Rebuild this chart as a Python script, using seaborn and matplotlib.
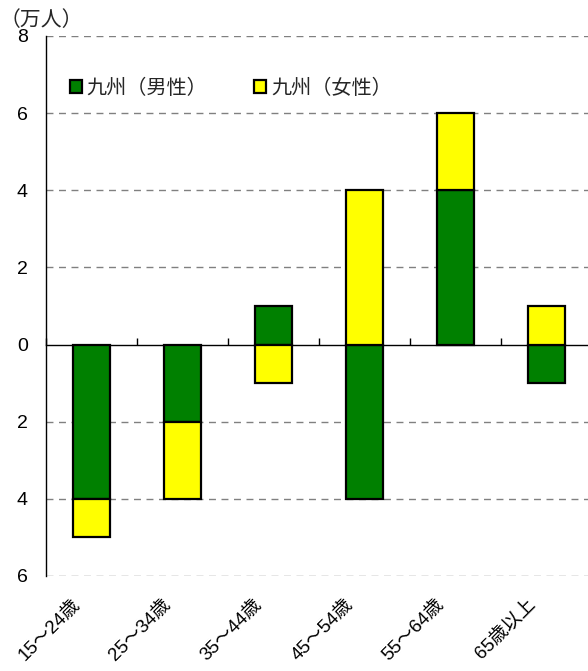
"""Kyushu labour force change by age group, stacked male/female bars."""

import matplotlib

matplotlib.use("Agg")
import matplotlib.pyplot as plt
import matplotlib.transforms as mtransforms
import numpy as np
import pandas as pd
import seaborn as sns
from matplotlib.patches import Patch
from matplotlib.ticker import FuncFormatter

AGE_GROUPS = ["15～24歳", "25～34歳", "35～44歳", "45～54歳", "55～64歳", "65歳以上"]
MALE = [-4, -2, 1, -4, 4, -1]
FEMALE = [-1, -2, -1, 4, 2, 1]
SERIES_NAMES = ["九州（男性）", "九州（女性）"]
Y_TICKS = [-6, -4, -2, 0, 2, 4, 6, 8]

GREEN = "#008000"
YELLOW = "#FFFF00"

sns.set_theme(style="white")
plt.rcParams["font.family"] = ["Liberation Sans", "Noto Sans CJK JP", "DejaVu Sans"]

male = np.array(MALE, dtype=float)
female = np.array(FEMALE, dtype=float)
# Excel-style stacking: a segment sits on the previous one only when signs agree
female_bottom = np.where(np.sign(female) == np.sign(male), male, 0.0)

df = pd.DataFrame({"age": AGE_GROUPS, "male": male, "female": female})

fig = plt.figure(figsize=(5.88, 6.71), dpi=100)
ax = fig.add_axes([46 / 588, 1 - 576 / 671, 1 - 46 / 588 + 0.007, 540 / 671])

sns.barplot(data=df, x="age", y="male", color=GREEN, width=0.4,
            edgecolor="black", linewidth=1.6, saturation=1, ax=ax, zorder=3)
sns.barplot(data=df, x="age", y="female", color=YELLOW, width=0.4,
            bottom=female_bottom, edgecolor="black", linewidth=1.6,
            saturation=1, ax=ax, zorder=3)

ax.set_ylim(-6, 8)
ax.set_xlim(-0.5, len(AGE_GROUPS) - 0.5)
ax.set_yticks(Y_TICKS)
ax.yaxis.set_major_formatter(FuncFormatter(lambda v, _: f"{abs(v):.0f}"))
for y in Y_TICKS:
    if y != 0:
        ax.axhline(y, color="#808080", lw=1, ls=(0, (5, 4)), zorder=1)

for side in ["top", "right", "bottom"]:
    ax.spines[side].set_visible(False)
ax.spines["left"].set_color("black")
ax.spines["left"].set_linewidth(1)

ax.set_xlabel("")
ax.set_ylabel("")
ax.tick_params(axis="y", length=0, labelsize=14, pad=13, colors="black")
ax.tick_params(axis="x", length=0, labelsize=13.5, pad=0, colors="black")
shift = mtransforms.ScaledTranslation(-20 / 100, -20 / 100, fig.dpi_scale_trans)
for lbl in ax.get_xticklabels():
    lbl.set_rotation(45)
    lbl.set_ha("right")
    lbl.set_va("top")
    lbl.set_rotation_mode("anchor")
    lbl.set_transform(lbl.get_transform() + shift)

# zero line acting as the category axis, with ticks between groups
zero = ax.secondary_xaxis(6 / 14)
zero.set_xticks(np.arange(len(AGE_GROUPS) + 1) - 0.5)
zero.set_xticklabels([])
zero.tick_params(axis="x", direction="in", length=5, width=1, colors="black")
zero.spines["bottom"].set_color("black")
zero.spines["bottom"].set_linewidth(1)
zero.spines["bottom"].set_zorder(4)

handles = [Patch(facecolor=GREEN, edgecolor="black", linewidth=1.6),
           Patch(facecolor=YELLOW, edgecolor="black", linewidth=1.6)]
ax.legend(handles, SERIES_NAMES, loc="upper left", bbox_to_anchor=(0.01, 0.955),
          ncol=2, frameon=False, fontsize=14.5, handlelength=0.6, handleheight=0.6,
          handletextpad=0.25, columnspacing=2.3)

fig.text(0.0, 1 - 20 / 671, "（万人）", fontsize=15, va="center", ha="left")

fig.savefig("out.png", dpi=100)
